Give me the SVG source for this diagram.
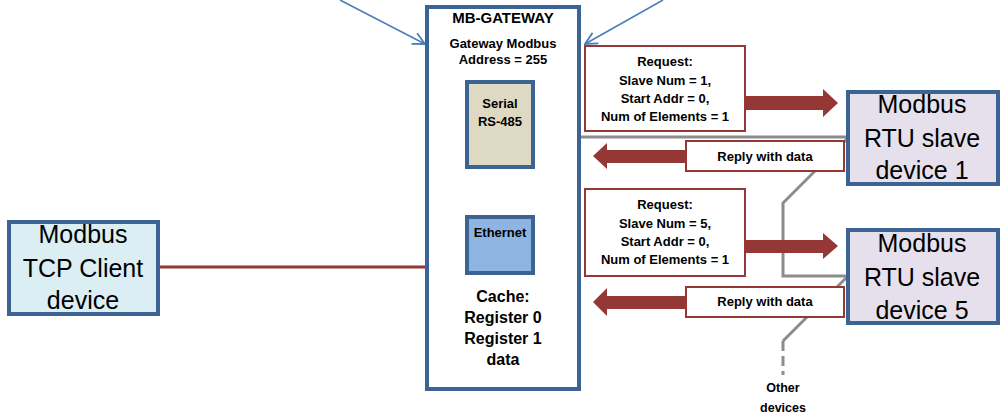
<svg xmlns="http://www.w3.org/2000/svg" width="1003" height="416" viewBox="0 0 1003 416">
<defs>
<style>
.node{stroke:#3B6494;stroke-width:4}
.lbl{font-family:"Liberation Sans",Arial,sans-serif;fill:#000;text-anchor:middle}
.b{font-weight:bold}
.big{font-size:25px}
.req{fill:#fff;stroke:#953735;stroke-width:2}
.fat{fill:#953735}
.bus{fill:none;stroke:#8C8C8C;stroke-width:3}
.blue{fill:none;stroke:#4A7EBB;stroke-width:1.6}
</style>
<marker id="open" viewBox="0 0 14 14" refX="13" refY="7" markerWidth="14" markerHeight="14" markerUnits="userSpaceOnUse" orient="auto">
<path d="M1 1 L13 7 L1 13" fill="none" stroke="#4A7EBB" stroke-width="1.8"/>
</marker>
</defs>
<rect width="1003" height="416" fill="#fff"/>

<g id="connectors">
<line class="blue" x1="340" y1="0" x2="425" y2="44" marker-end="url(#open)"/>
<line class="blue" x1="663" y1="0" x2="585" y2="44" marker-end="url(#open)"/>
<line x1="158" y1="267" x2="427" y2="267" stroke="#953735" stroke-width="3"/>
<path class="bus" d="M580 137 L846 137"/>
<path class="bus" d="M848 138 L783 203 L783 276 L848 276"/>
<path class="bus" d="M848 276 L783 341"/>
<path class="bus" d="M783 341 L783 375" stroke-dasharray="10 5"/>
<polygon class="fat" points="743,96 823,96 823,89 838,103 823,117 823,110 743,110"/>
<polygon class="fat" points="743,240 823,240 823,233 838,246 823,259 823,253 743,253"/>
<polygon class="fat" points="690,150 607,150 607,143 593,156 607,169 607,163 690,163"/>
<polygon class="fat" points="690,296 607,296 607,288 593,302 607,316 607,309 690,309"/>
</g>

<g id="gateway">
<rect class="node" x="427" y="7" width="152" height="382" fill="#fff"/>
<text class="lbl b" x="503" y="23" font-size="15">MB-GATEWAY</text>
<text class="lbl b" x="503" y="48" font-size="13">Gateway Modbus</text>
<text class="lbl b" x="503" y="64" font-size="13">Address = 255</text>
<text class="lbl b" x="503" y="302" font-size="16">Cache:</text>
<text class="lbl b" x="503" y="323" font-size="16">Register 0</text>
<text class="lbl b" x="503" y="344" font-size="16">Register 1</text>
<text class="lbl b" x="503" y="365" font-size="16">data</text>
</g>

<g id="serial">
<rect class="node" x="467" y="82" width="66" height="85" fill="#DDD9C3"/>
<text class="lbl b" x="500" y="108" font-size="13">Serial</text>
<text class="lbl b" x="500" y="126" font-size="13">RS-485</text>
</g>

<g id="ethernet">
<rect class="node" x="467" y="217" width="66" height="56" fill="#8EB4E3"/>
<text class="lbl b" x="500" y="237" font-size="13">Ethernet</text>
</g>

<g id="tcp-client">
<rect class="node" x="9" y="222" width="149" height="92" fill="#DAEEF3"/>
<text class="lbl big" x="83" y="243">Modbus</text>
<text class="lbl big" x="83" y="277">TCP Client</text>
<text class="lbl big" x="83" y="309">device</text>
</g>

<g id="request1">
<rect class="req" x="585" y="46" width="160" height="85"/>
<text class="lbl b" x="665" y="66" font-size="13">Request:</text>
<text class="lbl b" x="665" y="85" font-size="13">Slave Num = 1,</text>
<text class="lbl b" x="665" y="103" font-size="13">Start Addr = 0,</text>
<text class="lbl b" x="665" y="121" font-size="13">Num of Elements = 1</text>
</g>

<g id="reply1">
<rect class="req" x="686" y="141" width="158" height="30"/>
<text class="lbl b" x="765" y="161" font-size="13">Reply with data</text>
</g>

<g id="request2">
<rect class="req" x="585" y="189" width="160" height="87"/>
<text class="lbl b" x="665" y="209" font-size="13">Request:</text>
<text class="lbl b" x="665" y="228" font-size="13">Slave Num = 5,</text>
<text class="lbl b" x="665" y="246" font-size="13">Start Addr = 0,</text>
<text class="lbl b" x="665" y="264" font-size="13">Num of Elements = 1</text>
</g>

<g id="reply2">
<rect class="req" x="686" y="287" width="158" height="30"/>
<text class="lbl b" x="765" y="306" font-size="13">Reply with data</text>
</g>

<g id="slave1">
<rect class="node" x="848" y="92" width="150" height="92" fill="#E6E0EC"/>
<text class="lbl big" x="922" y="113">Modbus</text>
<text class="lbl big" x="922" y="147">RTU slave</text>
<text class="lbl big" x="922" y="179">device 1</text>
</g>

<g id="slave5">
<rect class="node" x="848" y="230" width="150" height="93" fill="#E6E0EC"/>
<text class="lbl big" x="922" y="252">Modbus</text>
<text class="lbl big" x="922" y="286">RTU slave</text>
<text class="lbl big" x="922" y="319">device 5</text>
</g>

<g id="other-devices">
<text class="lbl b" x="783" y="392" font-size="12.5">Other</text>
<text class="lbl b" x="783" y="412" font-size="12.5">devices</text>
</g>
</svg>
